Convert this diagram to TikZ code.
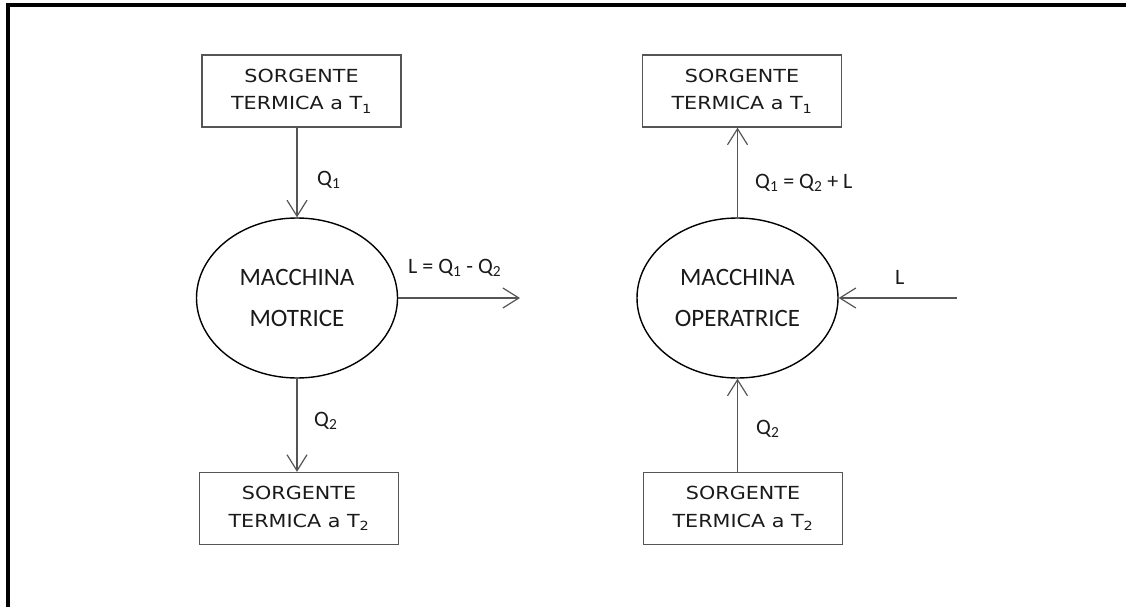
\documentclass[tikz,border=0pt]{standalone}
\usepackage{fontspec}
\setmainfont{Carlito}
\newfontfamily\boxfont[FakeStretch=1.15]{DejaVu Sans}
\usetikzlibrary{shapes.geometric,arrows.meta}
\definecolor{ln}{HTML}{555555}
\definecolor{tx}{HTML}{1a1a1a}
\begin{document}
\begin{tikzpicture}[x=1pt,y=-1pt,
  every node/.style={text=tx,inner sep=0pt},
  src/.style={draw=ln,line width=1.3pt,rectangle,minimum width=199pt,minimum height=72pt,align=center,font=\boxfont\fontsize{18}{27.5}\selectfont},
  mach/.style={draw=black,line width=1.4pt,ellipse,minimum width=201pt,minimum height=160pt,align=center,font=\fontsize{25}{40.5}\selectfont},
  arr/.style={draw=ln,line width=1.2pt,-{Straight Barb[length=16pt,width=20pt,line width=1.2pt]}},
  lbl/.style={anchor=base west,font=\fontsize{22}{26}\selectfont}]
\useasboundingbox (0,0) rectangle (1126,607);
% frame
\draw[line width=4pt] (8,607) -- (8,5.5) -- (1126,5.5);
% left side
\node[src] (b1) at (301.5,91) {SORGENTE\\TERMICA a T\textsubscript{1}};
\node[mach] (e1) at (297,298) {MACCHINA\\MOTRICE};
\node[src] (b2) at (299,508.5) {SORGENTE\\TERMICA a T\textsubscript{2}};
\coordinate (r1) at (520,298);
\draw[arr] (b1.south -| e1.north) -- (e1.north);
\draw[arr] (e1.south) -- (e1.south |- b2.north);
\draw[arr] (e1.east) -- (r1);
\node[lbl] (q1) at (317,185) {Q\textsubscript{1}};
\node[lbl] (q2) at (314,426) {Q\textsubscript{2}};
\node[lbl] (lq) at (408,273) {L = Q\textsubscript{1} - Q\textsubscript{2}};
% right side
\node[src] (b3) at (742,91) {SORGENTE\\TERMICA a T\textsubscript{1}};
\node[mach] (e2) at (737.5,298) {MACCHINA\\OPERATRICE};
\node[src] (b4) at (743,508.5) {SORGENTE\\TERMICA a T\textsubscript{2}};
\coordinate (l2) at (957,298);
\draw[arr] (e2.north) -- (e2.north |- b3.south);
\draw[arr] (b4.north -| e2.south) -- (e2.south);
\draw[arr] (l2) -- (e2.east);
\node[lbl] (q3) at (755,188) {Q\textsubscript{1} = Q\textsubscript{2} + L};
\node[lbl] (q4) at (756,434) {Q\textsubscript{2}};
\node[lbl] (ll) at (895,284) {L};
\end{tikzpicture}
\end{document}
